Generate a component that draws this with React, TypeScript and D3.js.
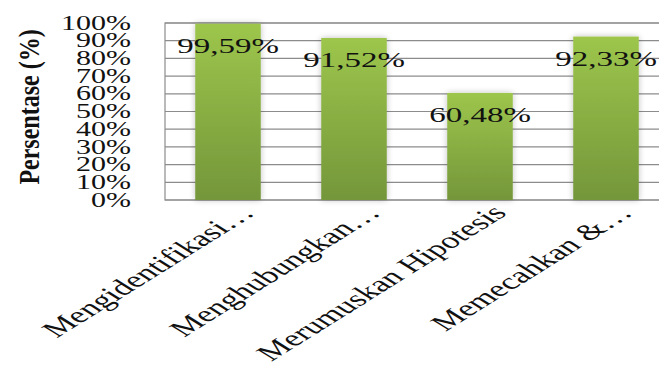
import React from "react";
import * as d3 from "d3";

const categories = [
  "Mengidentifikasi…",
  "Menghubungkan…",
  "Merumuskan Hipotesis",
  "Memecahkan &…",
];
const values = [99.59, 91.52, 60.48, 92.33];
const valueLabels = ["99,59%", "91,52%", "60,48%", "92,33%"];
const yTicks = [0, 10, 20, 30, 40, 50, 60, 70, 80, 90, 100];
const yTitle = "Persentase (%)";

const W = 659;
const H = 374;
const FONT = "'Liberation Serif', 'Times New Roman', serif";

export default function App() {
  const plotLeft = 165;
  const plotRight = 669;
  const plotTop = 23;
  const plotBottom = 200;
  const SX = 1.5;

  const x = d3
    .scaleBand<string>()
    .domain(categories)
    .range([plotLeft, plotRight])
    .paddingInner(0.48)
    .paddingOuter(0.24);
  const y = d3.scaleLinear().domain([0, 100]).range([plotBottom, plotTop]);

  return (
    <svg
      width={W}
      height={H}
      style={{ position: "absolute", left: 0, top: 0, background: "#fff" }}
      fontFamily={FONT}
    >
      <defs>
        <linearGradient id="barGrad" x1="0" y1="0" x2="0" y2="1">
          <stop offset="0%" stopColor="#9dc64c" />
          <stop offset="100%" stopColor="#74963a" />
        </linearGradient>
        <filter id="glow" x="-30%" y="-10%" width="160%" height="120%">
          <feGaussianBlur in="SourceAlpha" stdDeviation="3" />
          <feComponentTransfer>
            <feFuncA type="linear" slope="0.25" />
          </feComponentTransfer>
          <feMerge>
            <feMergeNode />
            <feMergeNode in="SourceGraphic" />
          </feMerge>
        </filter>
      </defs>

      {/* plot background & gridlines */}
      <rect
        x={plotLeft}
        y={plotTop}
        width={plotRight - plotLeft}
        height={plotBottom - plotTop}
        fill="#fff"
        stroke="#8c8c8c"
        strokeWidth={1.2}
      />
      {yTicks.map((t) => (
        <line
          key={"g" + t}
          x1={plotLeft}
          x2={plotRight}
          y1={y(t)}
          y2={y(t)}
          stroke="#8c8c8c"
          strokeWidth={1.2}
        />
      ))}

      {/* bars */}
      {categories.map((c, i) => (
        <rect
          key={"b" + c}
          x={x(c)!}
          y={y(values[i])}
          width={x.bandwidth()}
          height={plotBottom - y(values[i])}
          fill="url(#barGrad)"
          filter="url(#glow)"
        />
      ))}

      {/* bar value labels */}
      {categories.map((c, i) => (
        <text
          key={"v" + c}
          transform={`translate(${x(c)! + x.bandwidth() / 2},${y(values[i]) + 29}) scale(${SX},1)`}
          textAnchor="middle"
          fontSize={22}
          fill="#111"
        >
          {valueLabels[i]}
        </text>
      ))}

      {/* y tick labels */}
      {yTicks.map((t) => (
        <text
          key={"t" + t}
          transform={`translate(131,${y(t)}) scale(${SX},1)`}
          textAnchor="end"
          dominantBaseline="central"
          fontSize={20}
          fill="#111"
        >
          {t}%
        </text>
      ))}

      {/* y title */}
      <text
        transform={`translate(39,107) scale(1.2,1) rotate(-90)`}
        textAnchor="middle"
        fontSize={24}
        fontWeight="bold"
        fill="#111"
      >
        {yTitle}
      </text>

      {/* x category labels */}
      {categories.map((c) => (
        <text
          key={"x" + c}
          transform={`translate(${x(c)! + x.bandwidth() / 2 + 28},${plotBottom + 14}) scale(1.6,1) rotate(-45)`}
          textAnchor="end"
          fontSize={22.5}
          fill="#111"
        >
          {c}
        </text>
      ))}
    </svg>
  );
}
